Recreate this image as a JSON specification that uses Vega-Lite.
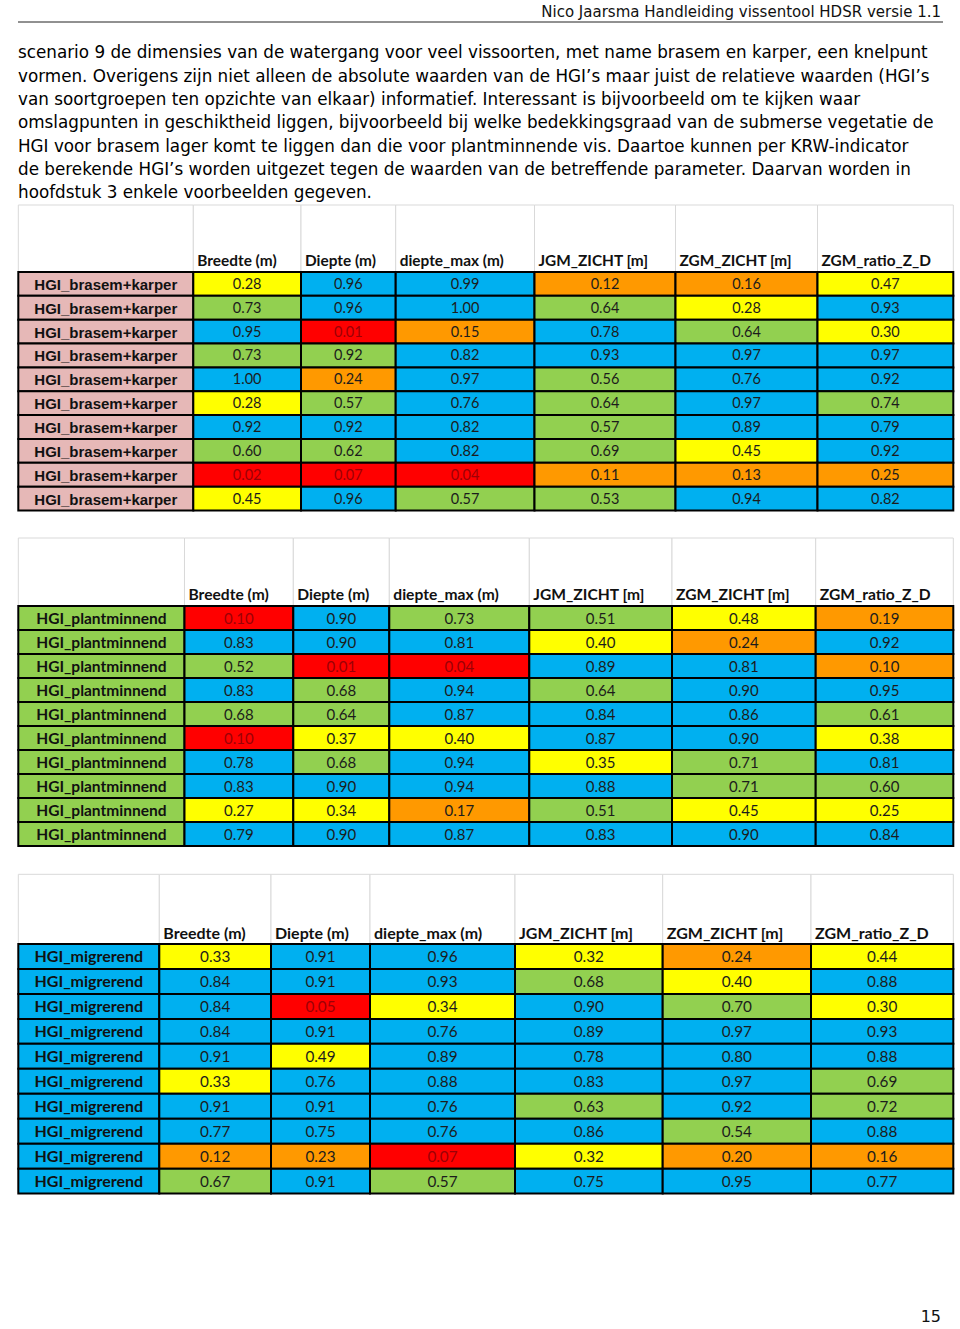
{
  "$schema": "https://vega.github.io/schema/vega-lite/v6.json",
  "padding": 0,
  "background": "white",
  "spacing": 0,
  "bounds": "flush",
  "config": {"view": {"stroke": null}, "font": "DejaVu Sans"},
  "resolve": {"scale": {"x": "independent", "y": "independent", "color": "shared"}},
  "datasets": {
    "regels": [
      {"regel": 1, "tekst": "scenario 9 de dimensies van de watergang voor veel vissoorten, met name brasem en karper, een knelpunt"},
      {"regel": 2, "tekst": "vormen. Overigens zijn niet alleen de absolute waarden van de HGI’s maar juist de relatieve waarden (HGI’s"},
      {"regel": 3, "tekst": "van soortgroepen ten opzichte van elkaar) informatief. Interessant is bijvoorbeeld om te kijken waar"},
      {"regel": 4, "tekst": "omslagpunten in geschiktheid liggen, bijvoorbeeld bij welke bedekkingsgraad van de submerse vegetatie de"},
      {"regel": 5, "tekst": "HGI voor brasem lager komt te liggen dan die voor plantminnende vis. Daartoe kunnen per KRW-indicator"},
      {"regel": 6, "tekst": "de berekende HGI’s worden uitgezet tegen de waarden van de betreffende parameter. Daarvan worden in"},
      {"regel": 7, "tekst": "hoofdstuk 3 enkele voorbeelden gegeven."}
    ],
    "kolommen": [
      {"kolom": "soort", "van": 0, "tot": 1, "midden": 0.5},
      {"kolom": "Breedte (m)", "van": 1, "tot": 2, "midden": 1.5},
      {"kolom": "Diepte (m)", "van": 2, "tot": 3, "midden": 2.5},
      {"kolom": "diepte_max (m)", "van": 3, "tot": 4, "midden": 3.5},
      {"kolom": "JGM_ZICHT [m]", "van": 4, "tot": 5, "midden": 4.5},
      {"kolom": "ZGM_ZICHT [m]", "van": 5, "tot": 6, "midden": 5.5},
      {"kolom": "ZGM_ratio_Z_D", "van": 6, "tot": 7, "midden": 6.5}
    ],
    "cellen": [
      {"tabel":1,"rij":1,"kolom":"soort","naam":"HGI_brasem+karper","klasse":"roze"},
      {"tabel":1,"rij":2,"kolom":"soort","naam":"HGI_brasem+karper","klasse":"roze"},
      {"tabel":1,"rij":3,"kolom":"soort","naam":"HGI_brasem+karper","klasse":"roze"},
      {"tabel":1,"rij":4,"kolom":"soort","naam":"HGI_brasem+karper","klasse":"roze"},
      {"tabel":1,"rij":5,"kolom":"soort","naam":"HGI_brasem+karper","klasse":"roze"},
      {"tabel":1,"rij":6,"kolom":"soort","naam":"HGI_brasem+karper","klasse":"roze"},
      {"tabel":1,"rij":7,"kolom":"soort","naam":"HGI_brasem+karper","klasse":"roze"},
      {"tabel":1,"rij":8,"kolom":"soort","naam":"HGI_brasem+karper","klasse":"roze"},
      {"tabel":1,"rij":9,"kolom":"soort","naam":"HGI_brasem+karper","klasse":"roze"},
      {"tabel":1,"rij":10,"kolom":"soort","naam":"HGI_brasem+karper","klasse":"roze"},
      {"tabel":2,"rij":1,"kolom":"soort","naam":"HGI_plantminnend","klasse":"groen"},
      {"tabel":2,"rij":2,"kolom":"soort","naam":"HGI_plantminnend","klasse":"groen"},
      {"tabel":2,"rij":3,"kolom":"soort","naam":"HGI_plantminnend","klasse":"groen"},
      {"tabel":2,"rij":4,"kolom":"soort","naam":"HGI_plantminnend","klasse":"groen"},
      {"tabel":2,"rij":5,"kolom":"soort","naam":"HGI_plantminnend","klasse":"groen"},
      {"tabel":2,"rij":6,"kolom":"soort","naam":"HGI_plantminnend","klasse":"groen"},
      {"tabel":2,"rij":7,"kolom":"soort","naam":"HGI_plantminnend","klasse":"groen"},
      {"tabel":2,"rij":8,"kolom":"soort","naam":"HGI_plantminnend","klasse":"groen"},
      {"tabel":2,"rij":9,"kolom":"soort","naam":"HGI_plantminnend","klasse":"groen"},
      {"tabel":2,"rij":10,"kolom":"soort","naam":"HGI_plantminnend","klasse":"groen"},
      {"tabel":3,"rij":1,"kolom":"soort","naam":"HGI_migrerend","klasse":"blauw"},
      {"tabel":3,"rij":2,"kolom":"soort","naam":"HGI_migrerend","klasse":"blauw"},
      {"tabel":3,"rij":3,"kolom":"soort","naam":"HGI_migrerend","klasse":"blauw"},
      {"tabel":3,"rij":4,"kolom":"soort","naam":"HGI_migrerend","klasse":"blauw"},
      {"tabel":3,"rij":5,"kolom":"soort","naam":"HGI_migrerend","klasse":"blauw"},
      {"tabel":3,"rij":6,"kolom":"soort","naam":"HGI_migrerend","klasse":"blauw"},
      {"tabel":3,"rij":7,"kolom":"soort","naam":"HGI_migrerend","klasse":"blauw"},
      {"tabel":3,"rij":8,"kolom":"soort","naam":"HGI_migrerend","klasse":"blauw"},
      {"tabel":3,"rij":9,"kolom":"soort","naam":"HGI_migrerend","klasse":"blauw"},
      {"tabel":3,"rij":10,"kolom":"soort","naam":"HGI_migrerend","klasse":"blauw"},

      {"tabel":1,"rij":1,"kolom":"Breedte (m)","waarde":0.28,"klasse":"geel"},
      {"tabel":1,"rij":1,"kolom":"Diepte (m)","waarde":0.96,"klasse":"blauw"},
      {"tabel":1,"rij":1,"kolom":"diepte_max (m)","waarde":0.99,"klasse":"blauw"},
      {"tabel":1,"rij":1,"kolom":"JGM_ZICHT [m]","waarde":0.12,"klasse":"oranje"},
      {"tabel":1,"rij":1,"kolom":"ZGM_ZICHT [m]","waarde":0.16,"klasse":"oranje"},
      {"tabel":1,"rij":1,"kolom":"ZGM_ratio_Z_D","waarde":0.47,"klasse":"geel"},
      {"tabel":1,"rij":2,"kolom":"Breedte (m)","waarde":0.73,"klasse":"groen"},
      {"tabel":1,"rij":2,"kolom":"Diepte (m)","waarde":0.96,"klasse":"blauw"},
      {"tabel":1,"rij":2,"kolom":"diepte_max (m)","waarde":1.00,"klasse":"blauw"},
      {"tabel":1,"rij":2,"kolom":"JGM_ZICHT [m]","waarde":0.64,"klasse":"groen"},
      {"tabel":1,"rij":2,"kolom":"ZGM_ZICHT [m]","waarde":0.28,"klasse":"geel"},
      {"tabel":1,"rij":2,"kolom":"ZGM_ratio_Z_D","waarde":0.93,"klasse":"blauw"},
      {"tabel":1,"rij":3,"kolom":"Breedte (m)","waarde":0.95,"klasse":"blauw"},
      {"tabel":1,"rij":3,"kolom":"Diepte (m)","waarde":0.01,"klasse":"rood"},
      {"tabel":1,"rij":3,"kolom":"diepte_max (m)","waarde":0.15,"klasse":"oranje"},
      {"tabel":1,"rij":3,"kolom":"JGM_ZICHT [m]","waarde":0.78,"klasse":"blauw"},
      {"tabel":1,"rij":3,"kolom":"ZGM_ZICHT [m]","waarde":0.64,"klasse":"groen"},
      {"tabel":1,"rij":3,"kolom":"ZGM_ratio_Z_D","waarde":0.30,"klasse":"geel"},
      {"tabel":1,"rij":4,"kolom":"Breedte (m)","waarde":0.73,"klasse":"groen"},
      {"tabel":1,"rij":4,"kolom":"Diepte (m)","waarde":0.92,"klasse":"groen"},
      {"tabel":1,"rij":4,"kolom":"diepte_max (m)","waarde":0.82,"klasse":"blauw"},
      {"tabel":1,"rij":4,"kolom":"JGM_ZICHT [m]","waarde":0.93,"klasse":"blauw"},
      {"tabel":1,"rij":4,"kolom":"ZGM_ZICHT [m]","waarde":0.97,"klasse":"blauw"},
      {"tabel":1,"rij":4,"kolom":"ZGM_ratio_Z_D","waarde":0.97,"klasse":"blauw"},
      {"tabel":1,"rij":5,"kolom":"Breedte (m)","waarde":1.00,"klasse":"blauw"},
      {"tabel":1,"rij":5,"kolom":"Diepte (m)","waarde":0.24,"klasse":"oranje"},
      {"tabel":1,"rij":5,"kolom":"diepte_max (m)","waarde":0.97,"klasse":"blauw"},
      {"tabel":1,"rij":5,"kolom":"JGM_ZICHT [m]","waarde":0.56,"klasse":"groen"},
      {"tabel":1,"rij":5,"kolom":"ZGM_ZICHT [m]","waarde":0.76,"klasse":"blauw"},
      {"tabel":1,"rij":5,"kolom":"ZGM_ratio_Z_D","waarde":0.92,"klasse":"blauw"},
      {"tabel":1,"rij":6,"kolom":"Breedte (m)","waarde":0.28,"klasse":"geel"},
      {"tabel":1,"rij":6,"kolom":"Diepte (m)","waarde":0.57,"klasse":"groen"},
      {"tabel":1,"rij":6,"kolom":"diepte_max (m)","waarde":0.76,"klasse":"blauw"},
      {"tabel":1,"rij":6,"kolom":"JGM_ZICHT [m]","waarde":0.64,"klasse":"groen"},
      {"tabel":1,"rij":6,"kolom":"ZGM_ZICHT [m]","waarde":0.97,"klasse":"blauw"},
      {"tabel":1,"rij":6,"kolom":"ZGM_ratio_Z_D","waarde":0.74,"klasse":"groen"},
      {"tabel":1,"rij":7,"kolom":"Breedte (m)","waarde":0.92,"klasse":"blauw"},
      {"tabel":1,"rij":7,"kolom":"Diepte (m)","waarde":0.92,"klasse":"blauw"},
      {"tabel":1,"rij":7,"kolom":"diepte_max (m)","waarde":0.82,"klasse":"blauw"},
      {"tabel":1,"rij":7,"kolom":"JGM_ZICHT [m]","waarde":0.57,"klasse":"groen"},
      {"tabel":1,"rij":7,"kolom":"ZGM_ZICHT [m]","waarde":0.89,"klasse":"blauw"},
      {"tabel":1,"rij":7,"kolom":"ZGM_ratio_Z_D","waarde":0.79,"klasse":"blauw"},
      {"tabel":1,"rij":8,"kolom":"Breedte (m)","waarde":0.60,"klasse":"groen"},
      {"tabel":1,"rij":8,"kolom":"Diepte (m)","waarde":0.62,"klasse":"groen"},
      {"tabel":1,"rij":8,"kolom":"diepte_max (m)","waarde":0.82,"klasse":"blauw"},
      {"tabel":1,"rij":8,"kolom":"JGM_ZICHT [m]","waarde":0.69,"klasse":"groen"},
      {"tabel":1,"rij":8,"kolom":"ZGM_ZICHT [m]","waarde":0.45,"klasse":"geel"},
      {"tabel":1,"rij":8,"kolom":"ZGM_ratio_Z_D","waarde":0.92,"klasse":"blauw"},
      {"tabel":1,"rij":9,"kolom":"Breedte (m)","waarde":0.02,"klasse":"rood"},
      {"tabel":1,"rij":9,"kolom":"Diepte (m)","waarde":0.07,"klasse":"rood"},
      {"tabel":1,"rij":9,"kolom":"diepte_max (m)","waarde":0.04,"klasse":"rood"},
      {"tabel":1,"rij":9,"kolom":"JGM_ZICHT [m]","waarde":0.11,"klasse":"oranje"},
      {"tabel":1,"rij":9,"kolom":"ZGM_ZICHT [m]","waarde":0.13,"klasse":"oranje"},
      {"tabel":1,"rij":9,"kolom":"ZGM_ratio_Z_D","waarde":0.25,"klasse":"oranje"},
      {"tabel":1,"rij":10,"kolom":"Breedte (m)","waarde":0.45,"klasse":"geel"},
      {"tabel":1,"rij":10,"kolom":"Diepte (m)","waarde":0.96,"klasse":"blauw"},
      {"tabel":1,"rij":10,"kolom":"diepte_max (m)","waarde":0.57,"klasse":"groen"},
      {"tabel":1,"rij":10,"kolom":"JGM_ZICHT [m]","waarde":0.53,"klasse":"groen"},
      {"tabel":1,"rij":10,"kolom":"ZGM_ZICHT [m]","waarde":0.94,"klasse":"blauw"},
      {"tabel":1,"rij":10,"kolom":"ZGM_ratio_Z_D","waarde":0.82,"klasse":"blauw"},

      {"tabel":2,"rij":1,"kolom":"Breedte (m)","waarde":0.10,"klasse":"rood"},
      {"tabel":2,"rij":1,"kolom":"Diepte (m)","waarde":0.90,"klasse":"blauw"},
      {"tabel":2,"rij":1,"kolom":"diepte_max (m)","waarde":0.73,"klasse":"groen"},
      {"tabel":2,"rij":1,"kolom":"JGM_ZICHT [m]","waarde":0.51,"klasse":"groen"},
      {"tabel":2,"rij":1,"kolom":"ZGM_ZICHT [m]","waarde":0.48,"klasse":"geel"},
      {"tabel":2,"rij":1,"kolom":"ZGM_ratio_Z_D","waarde":0.19,"klasse":"oranje"},
      {"tabel":2,"rij":2,"kolom":"Breedte (m)","waarde":0.83,"klasse":"blauw"},
      {"tabel":2,"rij":2,"kolom":"Diepte (m)","waarde":0.90,"klasse":"blauw"},
      {"tabel":2,"rij":2,"kolom":"diepte_max (m)","waarde":0.81,"klasse":"blauw"},
      {"tabel":2,"rij":2,"kolom":"JGM_ZICHT [m]","waarde":0.40,"klasse":"geel"},
      {"tabel":2,"rij":2,"kolom":"ZGM_ZICHT [m]","waarde":0.24,"klasse":"oranje"},
      {"tabel":2,"rij":2,"kolom":"ZGM_ratio_Z_D","waarde":0.92,"klasse":"blauw"},
      {"tabel":2,"rij":3,"kolom":"Breedte (m)","waarde":0.52,"klasse":"groen"},
      {"tabel":2,"rij":3,"kolom":"Diepte (m)","waarde":0.01,"klasse":"rood"},
      {"tabel":2,"rij":3,"kolom":"diepte_max (m)","waarde":0.04,"klasse":"rood"},
      {"tabel":2,"rij":3,"kolom":"JGM_ZICHT [m]","waarde":0.89,"klasse":"blauw"},
      {"tabel":2,"rij":3,"kolom":"ZGM_ZICHT [m]","waarde":0.81,"klasse":"blauw"},
      {"tabel":2,"rij":3,"kolom":"ZGM_ratio_Z_D","waarde":0.10,"klasse":"oranje"},
      {"tabel":2,"rij":4,"kolom":"Breedte (m)","waarde":0.83,"klasse":"blauw"},
      {"tabel":2,"rij":4,"kolom":"Diepte (m)","waarde":0.68,"klasse":"groen"},
      {"tabel":2,"rij":4,"kolom":"diepte_max (m)","waarde":0.94,"klasse":"blauw"},
      {"tabel":2,"rij":4,"kolom":"JGM_ZICHT [m]","waarde":0.64,"klasse":"groen"},
      {"tabel":2,"rij":4,"kolom":"ZGM_ZICHT [m]","waarde":0.90,"klasse":"blauw"},
      {"tabel":2,"rij":4,"kolom":"ZGM_ratio_Z_D","waarde":0.95,"klasse":"blauw"},
      {"tabel":2,"rij":5,"kolom":"Breedte (m)","waarde":0.68,"klasse":"groen"},
      {"tabel":2,"rij":5,"kolom":"Diepte (m)","waarde":0.64,"klasse":"groen"},
      {"tabel":2,"rij":5,"kolom":"diepte_max (m)","waarde":0.87,"klasse":"blauw"},
      {"tabel":2,"rij":5,"kolom":"JGM_ZICHT [m]","waarde":0.84,"klasse":"blauw"},
      {"tabel":2,"rij":5,"kolom":"ZGM_ZICHT [m]","waarde":0.86,"klasse":"blauw"},
      {"tabel":2,"rij":5,"kolom":"ZGM_ratio_Z_D","waarde":0.61,"klasse":"groen"},
      {"tabel":2,"rij":6,"kolom":"Breedte (m)","waarde":0.10,"klasse":"rood"},
      {"tabel":2,"rij":6,"kolom":"Diepte (m)","waarde":0.37,"klasse":"geel"},
      {"tabel":2,"rij":6,"kolom":"diepte_max (m)","waarde":0.40,"klasse":"geel"},
      {"tabel":2,"rij":6,"kolom":"JGM_ZICHT [m]","waarde":0.87,"klasse":"blauw"},
      {"tabel":2,"rij":6,"kolom":"ZGM_ZICHT [m]","waarde":0.90,"klasse":"blauw"},
      {"tabel":2,"rij":6,"kolom":"ZGM_ratio_Z_D","waarde":0.38,"klasse":"geel"},
      {"tabel":2,"rij":7,"kolom":"Breedte (m)","waarde":0.78,"klasse":"blauw"},
      {"tabel":2,"rij":7,"kolom":"Diepte (m)","waarde":0.68,"klasse":"groen"},
      {"tabel":2,"rij":7,"kolom":"diepte_max (m)","waarde":0.94,"klasse":"blauw"},
      {"tabel":2,"rij":7,"kolom":"JGM_ZICHT [m]","waarde":0.35,"klasse":"geel"},
      {"tabel":2,"rij":7,"kolom":"ZGM_ZICHT [m]","waarde":0.71,"klasse":"groen"},
      {"tabel":2,"rij":7,"kolom":"ZGM_ratio_Z_D","waarde":0.81,"klasse":"blauw"},
      {"tabel":2,"rij":8,"kolom":"Breedte (m)","waarde":0.83,"klasse":"blauw"},
      {"tabel":2,"rij":8,"kolom":"Diepte (m)","waarde":0.90,"klasse":"blauw"},
      {"tabel":2,"rij":8,"kolom":"diepte_max (m)","waarde":0.94,"klasse":"blauw"},
      {"tabel":2,"rij":8,"kolom":"JGM_ZICHT [m]","waarde":0.88,"klasse":"blauw"},
      {"tabel":2,"rij":8,"kolom":"ZGM_ZICHT [m]","waarde":0.71,"klasse":"groen"},
      {"tabel":2,"rij":8,"kolom":"ZGM_ratio_Z_D","waarde":0.60,"klasse":"groen"},
      {"tabel":2,"rij":9,"kolom":"Breedte (m)","waarde":0.27,"klasse":"geel"},
      {"tabel":2,"rij":9,"kolom":"Diepte (m)","waarde":0.34,"klasse":"geel"},
      {"tabel":2,"rij":9,"kolom":"diepte_max (m)","waarde":0.17,"klasse":"oranje"},
      {"tabel":2,"rij":9,"kolom":"JGM_ZICHT [m]","waarde":0.51,"klasse":"groen"},
      {"tabel":2,"rij":9,"kolom":"ZGM_ZICHT [m]","waarde":0.45,"klasse":"geel"},
      {"tabel":2,"rij":9,"kolom":"ZGM_ratio_Z_D","waarde":0.25,"klasse":"geel"},
      {"tabel":2,"rij":10,"kolom":"Breedte (m)","waarde":0.79,"klasse":"blauw"},
      {"tabel":2,"rij":10,"kolom":"Diepte (m)","waarde":0.90,"klasse":"blauw"},
      {"tabel":2,"rij":10,"kolom":"diepte_max (m)","waarde":0.87,"klasse":"blauw"},
      {"tabel":2,"rij":10,"kolom":"JGM_ZICHT [m]","waarde":0.83,"klasse":"blauw"},
      {"tabel":2,"rij":10,"kolom":"ZGM_ZICHT [m]","waarde":0.90,"klasse":"blauw"},
      {"tabel":2,"rij":10,"kolom":"ZGM_ratio_Z_D","waarde":0.84,"klasse":"blauw"},

      {"tabel":3,"rij":1,"kolom":"Breedte (m)","waarde":0.33,"klasse":"geel"},
      {"tabel":3,"rij":1,"kolom":"Diepte (m)","waarde":0.91,"klasse":"blauw"},
      {"tabel":3,"rij":1,"kolom":"diepte_max (m)","waarde":0.96,"klasse":"blauw"},
      {"tabel":3,"rij":1,"kolom":"JGM_ZICHT [m]","waarde":0.32,"klasse":"geel"},
      {"tabel":3,"rij":1,"kolom":"ZGM_ZICHT [m]","waarde":0.24,"klasse":"oranje"},
      {"tabel":3,"rij":1,"kolom":"ZGM_ratio_Z_D","waarde":0.44,"klasse":"geel"},
      {"tabel":3,"rij":2,"kolom":"Breedte (m)","waarde":0.84,"klasse":"blauw"},
      {"tabel":3,"rij":2,"kolom":"Diepte (m)","waarde":0.91,"klasse":"blauw"},
      {"tabel":3,"rij":2,"kolom":"diepte_max (m)","waarde":0.93,"klasse":"blauw"},
      {"tabel":3,"rij":2,"kolom":"JGM_ZICHT [m]","waarde":0.68,"klasse":"groen"},
      {"tabel":3,"rij":2,"kolom":"ZGM_ZICHT [m]","waarde":0.40,"klasse":"geel"},
      {"tabel":3,"rij":2,"kolom":"ZGM_ratio_Z_D","waarde":0.88,"klasse":"blauw"},
      {"tabel":3,"rij":3,"kolom":"Breedte (m)","waarde":0.84,"klasse":"blauw"},
      {"tabel":3,"rij":3,"kolom":"Diepte (m)","waarde":0.05,"klasse":"rood"},
      {"tabel":3,"rij":3,"kolom":"diepte_max (m)","waarde":0.34,"klasse":"geel"},
      {"tabel":3,"rij":3,"kolom":"JGM_ZICHT [m]","waarde":0.90,"klasse":"blauw"},
      {"tabel":3,"rij":3,"kolom":"ZGM_ZICHT [m]","waarde":0.70,"klasse":"groen"},
      {"tabel":3,"rij":3,"kolom":"ZGM_ratio_Z_D","waarde":0.30,"klasse":"geel"},
      {"tabel":3,"rij":4,"kolom":"Breedte (m)","waarde":0.84,"klasse":"blauw"},
      {"tabel":3,"rij":4,"kolom":"Diepte (m)","waarde":0.91,"klasse":"blauw"},
      {"tabel":3,"rij":4,"kolom":"diepte_max (m)","waarde":0.76,"klasse":"blauw"},
      {"tabel":3,"rij":4,"kolom":"JGM_ZICHT [m]","waarde":0.89,"klasse":"blauw"},
      {"tabel":3,"rij":4,"kolom":"ZGM_ZICHT [m]","waarde":0.97,"klasse":"blauw"},
      {"tabel":3,"rij":4,"kolom":"ZGM_ratio_Z_D","waarde":0.93,"klasse":"blauw"},
      {"tabel":3,"rij":5,"kolom":"Breedte (m)","waarde":0.91,"klasse":"blauw"},
      {"tabel":3,"rij":5,"kolom":"Diepte (m)","waarde":0.49,"klasse":"geel"},
      {"tabel":3,"rij":5,"kolom":"diepte_max (m)","waarde":0.89,"klasse":"blauw"},
      {"tabel":3,"rij":5,"kolom":"JGM_ZICHT [m]","waarde":0.78,"klasse":"blauw"},
      {"tabel":3,"rij":5,"kolom":"ZGM_ZICHT [m]","waarde":0.80,"klasse":"blauw"},
      {"tabel":3,"rij":5,"kolom":"ZGM_ratio_Z_D","waarde":0.88,"klasse":"blauw"},
      {"tabel":3,"rij":6,"kolom":"Breedte (m)","waarde":0.33,"klasse":"geel"},
      {"tabel":3,"rij":6,"kolom":"Diepte (m)","waarde":0.76,"klasse":"blauw"},
      {"tabel":3,"rij":6,"kolom":"diepte_max (m)","waarde":0.88,"klasse":"blauw"},
      {"tabel":3,"rij":6,"kolom":"JGM_ZICHT [m]","waarde":0.83,"klasse":"blauw"},
      {"tabel":3,"rij":6,"kolom":"ZGM_ZICHT [m]","waarde":0.97,"klasse":"blauw"},
      {"tabel":3,"rij":6,"kolom":"ZGM_ratio_Z_D","waarde":0.69,"klasse":"groen"},
      {"tabel":3,"rij":7,"kolom":"Breedte (m)","waarde":0.91,"klasse":"blauw"},
      {"tabel":3,"rij":7,"kolom":"Diepte (m)","waarde":0.91,"klasse":"blauw"},
      {"tabel":3,"rij":7,"kolom":"diepte_max (m)","waarde":0.76,"klasse":"blauw"},
      {"tabel":3,"rij":7,"kolom":"JGM_ZICHT [m]","waarde":0.63,"klasse":"groen"},
      {"tabel":3,"rij":7,"kolom":"ZGM_ZICHT [m]","waarde":0.92,"klasse":"blauw"},
      {"tabel":3,"rij":7,"kolom":"ZGM_ratio_Z_D","waarde":0.72,"klasse":"groen"},
      {"tabel":3,"rij":8,"kolom":"Breedte (m)","waarde":0.77,"klasse":"blauw"},
      {"tabel":3,"rij":8,"kolom":"Diepte (m)","waarde":0.75,"klasse":"blauw"},
      {"tabel":3,"rij":8,"kolom":"diepte_max (m)","waarde":0.76,"klasse":"blauw"},
      {"tabel":3,"rij":8,"kolom":"JGM_ZICHT [m]","waarde":0.86,"klasse":"blauw"},
      {"tabel":3,"rij":8,"kolom":"ZGM_ZICHT [m]","waarde":0.54,"klasse":"groen"},
      {"tabel":3,"rij":8,"kolom":"ZGM_ratio_Z_D","waarde":0.88,"klasse":"blauw"},
      {"tabel":3,"rij":9,"kolom":"Breedte (m)","waarde":0.12,"klasse":"oranje"},
      {"tabel":3,"rij":9,"kolom":"Diepte (m)","waarde":0.23,"klasse":"oranje"},
      {"tabel":3,"rij":9,"kolom":"diepte_max (m)","waarde":0.07,"klasse":"rood"},
      {"tabel":3,"rij":9,"kolom":"JGM_ZICHT [m]","waarde":0.32,"klasse":"geel"},
      {"tabel":3,"rij":9,"kolom":"ZGM_ZICHT [m]","waarde":0.20,"klasse":"oranje"},
      {"tabel":3,"rij":9,"kolom":"ZGM_ratio_Z_D","waarde":0.16,"klasse":"oranje"},
      {"tabel":3,"rij":10,"kolom":"Breedte (m)","waarde":0.67,"klasse":"groen"},
      {"tabel":3,"rij":10,"kolom":"Diepte (m)","waarde":0.91,"klasse":"blauw"},
      {"tabel":3,"rij":10,"kolom":"diepte_max (m)","waarde":0.57,"klasse":"groen"},
      {"tabel":3,"rij":10,"kolom":"JGM_ZICHT [m]","waarde":0.75,"klasse":"blauw"},
      {"tabel":3,"rij":10,"kolom":"ZGM_ZICHT [m]","waarde":0.95,"klasse":"blauw"},
      {"tabel":3,"rij":10,"kolom":"ZGM_ratio_Z_D","waarde":0.77,"klasse":"blauw"}
    ]
  },
  "vconcat": [
    {
      "width": 960, "height": 22,
      "data": {"values": [{"kop": "Nico Jaarsma Handleiding vissentool HDSR versie 1.1"}]},
      "layer": [
        {"mark": {"type": "text", "align": "right", "baseline": "alphabetic", "font": "DejaVu Sans", "fontSize": 15, "color": "#111111", "dx": -2, "dy": 6},
         "encoding": {"x": {"datum": 1, "type": "quantitative", "scale": {"domain": [0, 1], "range": [18, 943]}, "axis": null},
                      "text": {"field": "kop"}}},
        {"mark": {"type": "rule", "color": "#222222", "strokeWidth": 1},
         "encoding": {"x": {"datum": 0, "type": "quantitative", "scale": {"domain": [0, 1], "range": [18, 943]}, "axis": null},
                      "x2": {"datum": 1},
                      "y": {"datum": 0, "type": "quantitative", "scale": {"domain": [0, 1]}, "axis": null}}}
      ]
    },
    {
      "width": 960, "height": 183,
      "data": {"name": "regels"},
      "mark": {"type": "text", "align": "left", "baseline": "alphabetic", "font": "DejaVu Sans", "fontSize": 16.8, "color": "#000000"},
      "encoding": {
        "x": {"datum": 0, "type": "quantitative", "scale": {"domain": [0, 1], "range": [18, 942]}, "axis": null},
        "y": {"field": "regel", "type": "quantitative", "scale": {"domain": [1, 7], "range": [36.3, 176.3]}, "axis": null},
        "text": {"field": "tekst"}
      }
    },
    {
      "width": 960, "height": 66.5,
      "data": {"name": "kolommen"},
      "layer": [
        {"mark": {"type": "rect", "fill": "white", "stroke": "#d9d9d9", "strokeWidth": 1},
         "encoding": {"x": {"field": "van", "type": "quantitative", "scale": {"domain": [0,1,2,3,4,5,6,7], "range": [18.3,193.3,301,395.7,534.5,675.5,817.5,953.3], "nice": false, "zero": false}, "axis": null},
                      "x2": {"field": "tot"},
                      "y": {"datum": 0, "type": "quantitative", "scale": {"domain": [0, 1], "range": [0, 66.5]}, "axis": null},
                      "y2": {"datum": 1}}},
        {"transform": [{"filter": "datum.kolom !== 'soort'"}],
         "mark": {"type": "text", "align": "left", "baseline": "alphabetic", "font": "Lato", "fontWeight": "bold", "fontSize": 15.4, "dx": 4, "dy": -6, "color": "#111111"},
         "encoding": {"x": {"field": "van", "type": "quantitative", "scale": {"domain": [0,1,2,3,4,5,6,7], "range": [18.3,193.3,301,395.7,534.5,675.5,817.5,953.3], "nice": false, "zero": false}, "axis": null},
                      "y": {"datum": 1, "type": "quantitative", "scale": {"domain": [0, 1], "range": [0, 66.5]}, "axis": null},
                      "text": {"field": "kolom"}}}
      ]
    },
    {
      "width": 960, "height": 238.5,
      "data": {"name": "cellen"},
      "transform": [{"filter": "datum.tabel === 1"}, {"lookup": "kolom", "from": {"data": {"name": "kolommen"}, "key": "kolom", "fields": ["van", "tot", "midden"]}}],
      "encoding": {"y": {"field": "rij", "type": "ordinal", "scale": {"paddingInner": 0, "paddingOuter": 0}, "axis": null}},
      "layer": [
        {"mark": {"type": "rect", "stroke": "#000000", "strokeWidth": 2},
         "encoding": {"x": {"field": "van", "type": "quantitative", "scale": {"domain": [0,1,2,3,4,5,6,7], "range": [18.3,193.3,301,395.7,534.5,675.5,817.5,953.3], "nice": false, "zero": false}, "axis": null},
                      "x2": {"field": "tot"},
                      "color": {"field": "klasse", "type": "nominal", "scale": {"domain": ["rood","oranje","geel","groen","blauw","roze"], "range": ["#FF0000","#FF9900","#FFFF00","#92D050","#00B0F0","#E6B8B7"]}, "legend": null}}},
        {"transform": [{"filter": "datum.kolom !== 'soort'"}],
         "mark": {"type": "text", "font": "Lato", "fontSize": 14.5, "baseline": "middle", "dy": 1},
         "encoding": {"x": {"field": "midden", "type": "quantitative", "scale": {"domain": [0,1,2,3,4,5,6,7], "range": [18.3,193.3,301,395.7,534.5,675.5,817.5,953.3], "nice": false, "zero": false}, "axis": null},
                      "text": {"field": "waarde", "type": "quantitative", "format": ".2f"},
                      "color": {"condition": {"test": "datum.klasse === 'rood'", "value": "#9C0006"}, "value": "#1C1C1C"}}},
        {"transform": [{"filter": "datum.kolom === 'soort'"}],
         "mark": {"type": "text", "font": "Liberation Sans", "fontWeight": "bold", "fontSize": 15, "baseline": "middle", "dy": 1, "color": "#111111"},
         "encoding": {"x": {"field": "midden", "type": "quantitative", "scale": {"domain": [0,1,2,3,4,5,6,7], "range": [18.3,193.3,301,395.7,534.5,675.5,817.5,953.3], "nice": false, "zero": false}, "axis": null},
                      "text": {"field": "naam"}}}
      ]
    },
    {
      "width": 960, "height": 95,
      "data": {"name": "kolommen"},
      "layer": [
        {"mark": {"type": "rect", "fill": "white", "stroke": "#d9d9d9", "strokeWidth": 1},
         "encoding": {"x": {"field": "van", "type": "quantitative", "scale": {"domain": [0,1,2,3,4,5,6,7], "range": [18.3,184.5,293.3,389.3,529.3,672,815.7,953.3], "nice": false, "zero": false}, "axis": null},
                      "x2": {"field": "tot"},
                      "y": {"datum": 0, "type": "quantitative", "scale": {"domain": [0, 1], "range": [27, 95]}, "axis": null},
                      "y2": {"datum": 1}}},
        {"transform": [{"filter": "datum.kolom !== 'soort'"}],
         "mark": {"type": "text", "align": "left", "baseline": "alphabetic", "font": "Lato", "fontWeight": "bold", "fontSize": 15.6, "dx": 4, "dy": -6, "color": "#111111"},
         "encoding": {"x": {"field": "van", "type": "quantitative", "scale": {"domain": [0,1,2,3,4,5,6,7], "range": [18.3,184.5,293.3,389.3,529.3,672,815.7,953.3], "nice": false, "zero": false}, "axis": null},
                      "y": {"datum": 1, "type": "quantitative", "scale": {"domain": [0, 1], "range": [27, 95]}, "axis": null},
                      "text": {"field": "kolom"}}}
      ]
    },
    {
      "width": 960, "height": 240,
      "data": {"name": "cellen"},
      "transform": [{"filter": "datum.tabel === 2"}, {"lookup": "kolom", "from": {"data": {"name": "kolommen"}, "key": "kolom", "fields": ["van", "tot", "midden"]}}],
      "encoding": {"y": {"field": "rij", "type": "ordinal", "scale": {"paddingInner": 0, "paddingOuter": 0}, "axis": null}},
      "layer": [
        {"mark": {"type": "rect", "stroke": "#000000", "strokeWidth": 2},
         "encoding": {"x": {"field": "van", "type": "quantitative", "scale": {"domain": [0,1,2,3,4,5,6,7], "range": [18.3,184.5,293.3,389.3,529.3,672,815.7,953.3], "nice": false, "zero": false}, "axis": null},
                      "x2": {"field": "tot"},
                      "color": {"field": "klasse", "type": "nominal", "scale": {"domain": ["rood","oranje","geel","groen","blauw","roze"], "range": ["#FF0000","#FF9900","#FFFF00","#92D050","#00B0F0","#E6B8B7"]}, "legend": null}}},
        {"transform": [{"filter": "datum.kolom !== 'soort'"}],
         "mark": {"type": "text", "font": "Lato", "fontSize": 15, "baseline": "middle", "dy": 1},
         "encoding": {"x": {"field": "midden", "type": "quantitative", "scale": {"domain": [0,1,2,3,4,5,6,7], "range": [18.3,184.5,293.3,389.3,529.3,672,815.7,953.3], "nice": false, "zero": false}, "axis": null},
                      "text": {"field": "waarde", "type": "quantitative", "format": ".2f"},
                      "color": {"condition": {"test": "datum.klasse === 'rood'", "value": "#9C0006"}, "value": "#1C1C1C"}}},
        {"transform": [{"filter": "datum.kolom === 'soort'"}],
         "mark": {"type": "text", "font": "Lato", "fontWeight": "bold", "fontSize": 15.5, "baseline": "middle", "dy": 1, "color": "#111111"},
         "encoding": {"x": {"field": "midden", "type": "quantitative", "scale": {"domain": [0,1,2,3,4,5,6,7], "range": [18.3,184.5,293.3,389.3,529.3,672,815.7,953.3], "nice": false, "zero": false}, "axis": null},
                      "text": {"field": "naam"}}}
      ]
    },
    {
      "width": 960, "height": 97.7,
      "data": {"name": "kolommen"},
      "layer": [
        {"mark": {"type": "rect", "fill": "white", "stroke": "#d9d9d9", "strokeWidth": 1},
         "encoding": {"x": {"field": "van", "type": "quantitative", "scale": {"domain": [0,1,2,3,4,5,6,7], "range": [18.3,159.3,271,370,515,662.7,811,953.3], "nice": false, "zero": false}, "axis": null},
                      "x2": {"field": "tot"},
                      "y": {"datum": 0, "type": "quantitative", "scale": {"domain": [0, 1], "range": [28.3, 97.7]}, "axis": null},
                      "y2": {"datum": 1}}},
        {"transform": [{"filter": "datum.kolom !== 'soort'"}],
         "mark": {"type": "text", "align": "left", "baseline": "alphabetic", "font": "Lato", "fontWeight": "bold", "fontSize": 16, "dx": 4, "dy": -5, "color": "#111111"},
         "encoding": {"x": {"field": "van", "type": "quantitative", "scale": {"domain": [0,1,2,3,4,5,6,7], "range": [18.3,159.3,271,370,515,662.7,811,953.3], "nice": false, "zero": false}, "axis": null},
                      "y": {"datum": 1, "type": "quantitative", "scale": {"domain": [0, 1], "range": [28.3, 97.7]}, "axis": null},
                      "text": {"field": "kolom"}}}
      ]
    },
    {
      "width": 960, "height": 249.6,
      "data": {"name": "cellen"},
      "transform": [{"filter": "datum.tabel === 3"}, {"lookup": "kolom", "from": {"data": {"name": "kolommen"}, "key": "kolom", "fields": ["van", "tot", "midden"]}}],
      "encoding": {"y": {"field": "rij", "type": "ordinal", "scale": {"paddingInner": 0, "paddingOuter": 0}, "axis": null}},
      "layer": [
        {"mark": {"type": "rect", "stroke": "#000000", "strokeWidth": 2},
         "encoding": {"x": {"field": "van", "type": "quantitative", "scale": {"domain": [0,1,2,3,4,5,6,7], "range": [18.3,159.3,271,370,515,662.7,811,953.3], "nice": false, "zero": false}, "axis": null},
                      "x2": {"field": "tot"},
                      "color": {"field": "klasse", "type": "nominal", "scale": {"domain": ["rood","oranje","geel","groen","blauw","roze"], "range": ["#FF0000","#FF9900","#FFFF00","#92D050","#00B0F0","#E6B8B7"]}, "legend": null}}},
        {"transform": [{"filter": "datum.kolom !== 'soort'"}],
         "mark": {"type": "text", "font": "Lato", "fontSize": 15.3, "baseline": "middle", "dy": 1},
         "encoding": {"x": {"field": "midden", "type": "quantitative", "scale": {"domain": [0,1,2,3,4,5,6,7], "range": [18.3,159.3,271,370,515,662.7,811,953.3], "nice": false, "zero": false}, "axis": null},
                      "text": {"field": "waarde", "type": "quantitative", "format": ".2f"},
                      "color": {"condition": {"test": "datum.klasse === 'rood'", "value": "#9C0006"}, "value": "#1C1C1C"}}},
        {"transform": [{"filter": "datum.kolom === 'soort'"}],
         "mark": {"type": "text", "font": "Lato", "fontWeight": "bold", "fontSize": 16, "baseline": "middle", "dy": 1, "color": "#111111"},
         "encoding": {"x": {"field": "midden", "type": "quantitative", "scale": {"domain": [0,1,2,3,4,5,6,7], "range": [18.3,159.3,271,370,515,662.7,811,953.3], "nice": false, "zero": false}, "axis": null},
                      "text": {"field": "naam"}}}
      ]
    },
    {
      "width": 960, "height": 136.7,
      "data": {"values": [{"pagina": "15"}]},
      "mark": {"type": "text", "align": "right", "baseline": "alphabetic", "font": "DejaVu Sans", "fontSize": 16, "color": "#111111", "dy": 60},
      "encoding": {
        "x": {"datum": 1, "type": "quantitative", "scale": {"domain": [0, 1], "range": [18, 941]}, "axis": null},
        "text": {"field": "pagina"}
      }
    }
  ]
}
